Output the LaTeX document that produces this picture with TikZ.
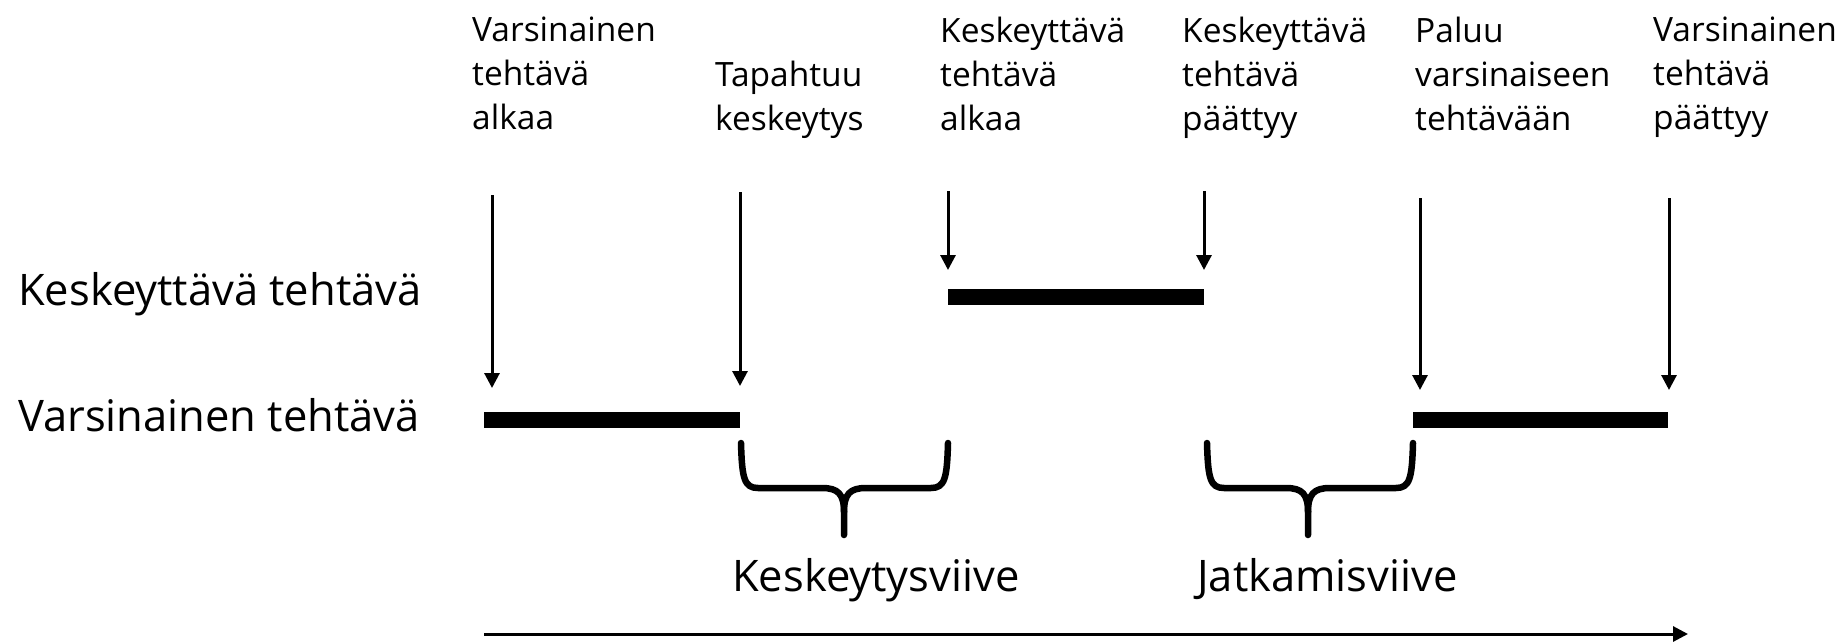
\documentclass[tikz,border=0pt]{standalone}
\usepackage{fontspec}
\setmainfont{Open Sans}
\usetikzlibrary{arrows.meta}

\tikzset{
  tapahtuma/.style={line width=3pt,-{Triangle[length=15pt,width=15pt]}},
  palkki/.style={line width=16pt},
  sulku/.style={line width=6.5pt,line cap=round,line join=round},
  otsikko/.style={anchor=north west,align=left,inner sep=0pt,font=\fontsize{33.5}{44}\selectfont},
  tehtava/.style={anchor=base west,inner sep=0pt,font=\fontsize{43.5}{50}\selectfont},
  viive/.style={anchor=base west,inner sep=0pt,font=\fontsize{43.5}{52}\selectfont}
}

\begin{document}
\begin{tikzpicture}[x=1pt,y=-1pt]
	\useasboundingbox (0,0) rectangle (1847,643);
	% tapahtumat ylhaalla
	\node[otsikko] (valku) at (472,17) {Varsinainen\\tehtävä\\alkaa};
	\node[otsikko] (keskeytys) at (715,61) {Tapahtuu\\keskeytys};
	\node[otsikko] (kalku) at (940,17) {Keskeyttävä\\tehtävä\\alkaa};
	\node[otsikko] (kloppu) at (1182,17) {Keskeyttävä\\tehtävä\\päättyy};
	\node[otsikko] (paluu) at (1415,17) {Paluu\\varsinaiseen\\tehtävään};
	\node[otsikko] (vloppu) at (1653,17) {Varsinainen\\tehtävä\\päättyy};
	% tehtavat vasemmalla
	\node[tehtava] (ktehtava) at (18,305) {Keskeyttävä tehtävä};
	\node[tehtava] (vtehtava) at (18,431) {Varsinainen tehtävä};
	% nuolet
	\coordinate (a1) at (492,195); \coordinate (b1) at (492,388);
	\coordinate (a2) at (740,192); \coordinate (b2) at (740,386);
	\coordinate (a3) at (948,191); \coordinate (b3) at (948,270);
	\coordinate (a4) at (1204,191); \coordinate (b4) at (1204,270);
	\coordinate (a5) at (1420,198); \coordinate (b5) at (1420,390);
	\coordinate (a6) at (1669,198); \coordinate (b6) at (1669,390);
	\draw[tapahtuma] (a1) -- (b1);
	\draw[tapahtuma] (a2) -- (b2);
	\draw[tapahtuma] (a3) -- (b3);
	\draw[tapahtuma] (a4) -- (b4);
	\draw[tapahtuma] (a5) -- (b5);
	\draw[tapahtuma] (a6) -- (b6);
	% palkit
	\draw[palkki] (484,420) -- (740,420);
	\draw[palkki] (948,297) -- (1204,297);
	\draw[palkki] (1413,420) -- (1668,420);
	% sulut
	\draw[sulku] (741,443) .. controls (742,478) and (744,488) .. (758,488) -- (822,488)
		.. controls (838,488) and (844,494) .. (844,512) -- (844,535);
	\draw[sulku] (948,443) .. controls (947,478) and (945,488) .. (931,488) -- (866,488)
		.. controls (850,488) and (844,494) .. (844,512);
	\draw[sulku] (1207,443) .. controls (1208,478) and (1210,488) .. (1224,488) -- (1286,488)
		.. controls (1302,488) and (1308,494) .. (1308,512) -- (1308,535);
	\draw[sulku] (1413,443) .. controls (1412,478) and (1410,488) .. (1396,488) -- (1330,488)
		.. controls (1314,488) and (1308,494) .. (1308,512);
	\node[viive] (kviive) at (732,591) {Keskeytysviive};
	\node[viive] (jviive) at (1197,591) {Jatkamisviive};
	% aika-akseli
	\coordinate (aika0) at (484,634);
	\coordinate (aika1) at (1688,634);
	\draw[tapahtuma] (aika0) -- (aika1);
\end{tikzpicture}
\end{document}
